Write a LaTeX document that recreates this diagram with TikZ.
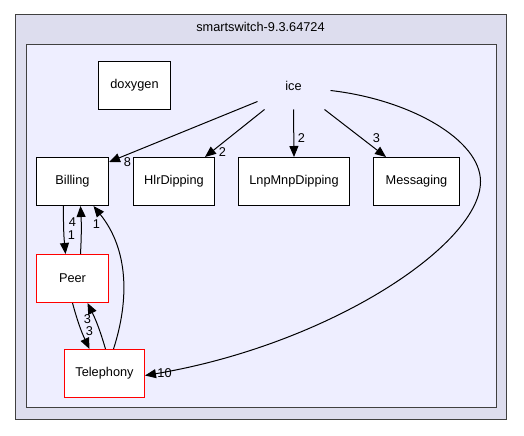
\documentclass[tikz,border=0pt]{standalone}
\usepackage{fontspec}
\setmainfont{Liberation Sans}
\usepackage{tikz}
\usetikzlibrary{arrows.meta}
\definecolor{clusterouter}{RGB}{221, 221, 238}
\definecolor{clusterinner}{RGB}{238, 238, 255}
\definecolor{clusterline}{RGB}{64, 64, 64}

\tikzset{
  dirbox/.style={draw=black, fill=white, line width=1bp, minimum height=48bp, inner sep=0pt, font=\fontsize{12.8}{15}\selectfont},
  dirboxred/.style={dirbox, draw=red},
  elabel/.style={inner sep=0pt, font=\fontsize{12.8}{15}\selectfont},
  dep/.style={-{Triangle[length=11bp,width=9bp]}, line width=1bp}
}

\begin{document}
\begin{tikzpicture}[x=1bp, y=-1bp]
                \useasboundingbox (0.5,0.5) rectangle (524.5,436.5);
                % clusters
                \draw[clusterline, fill=clusterouter, line width=1.2bp] (16,15) rectangle (507,420);
                \node[elabel] (title) at (261,27) {smartswitch-9.3.64724};
                \draw[clusterline, fill=clusterinner, line width=1.2bp] (27,45) rectangle (497,408);

                % directories
                \node[dirbox, minimum width=72bp] (doxygen) at (135,86) {doxygen};
                \node[elabel, minimum width=72bp, minimum height=48bp] (ice) at (294,86) {ice};
                \node[dirbox, minimum width=72bp] (billing) at (73,182) {Billing};
                \node[dirbox, minimum width=81bp] (hlr) at (174.5,182) {HlrDipping};
                \node[dirbox, minimum width=111bp] (lnp) at (294.5,182) {LnpMnpDipping};
                \node[dirbox, minimum width=86bp] (messaging) at (417,182) {Messaging};
                \node[dirboxred, minimum width=72bp] (peer) at (73,279) {Peer};
                \node[dirboxred, minimum width=80bp] (telephony) at (105,374) {Telephony};

                % dependencies from ice
                \draw[dep] ([xshift=-36bp,yshift=-16bp]ice.center) -- ([yshift=-5bp]billing.north east);
                \node[elabel] (lbl8) at (128,163) {8};
                \draw[dep] ([xshift=-29bp,yshift=-24bp]ice.center) -- ([xshift=-10bp]hlr.north east);
                \node[elabel] (lbl2a) at (223,153) {2};
                \draw[dep] ([yshift=-24bp]ice.center) -- (lnp.north);
                \node[elabel] (lbl2b) at (302,139) {2};
                \draw[dep] ([xshift=31bp,yshift=-24bp]ice.center) -- ([xshift=13bp]messaging.north west);
                \node[elabel] (lbl3m) at (377,139) {3};
                \draw[dep] ([xshift=37bp,yshift=-5bp]ice.center) .. controls (410,100) and (481,140) .. (481,182)
                      .. controls (481,245) and (330,345) .. ([yshift=-2bp]telephony.east);
                \node[elabel] (lbl10) at (165,374) {10};

                % lower dependencies
                \draw[dep] ([xshift=-9bp]billing.south) to[bend right=3] ([xshift=-7bp]peer.north);
                \node[elabel] (lbl4) at (73,223) {4};
                \draw[dep] ([xshift=8bp]peer.north) to[bend right=3] ([xshift=8bp]billing.south);
                \node[elabel] (lbl1a) at (72,236) {1};
                \draw[dep] ([xshift=9bp]telephony.north) .. controls (130,300) and (129,250) .. ([xshift=21bp]billing.south);
                \node[elabel] (lbl1b) at (97,225) {1};
                \draw[dep] (peer.south) to[bend right=5] ([xshift=-15bp]telephony.north);
                \node[elabel] (lbl3a) at (88,320) {3};
                \draw[dep] ([xshift=1bp]telephony.north) to[bend right=5] ([xshift=15bp]peer.south);
                \node[elabel] (lbl3b) at (90,332) {3};
            \end{tikzpicture}
\end{document}
